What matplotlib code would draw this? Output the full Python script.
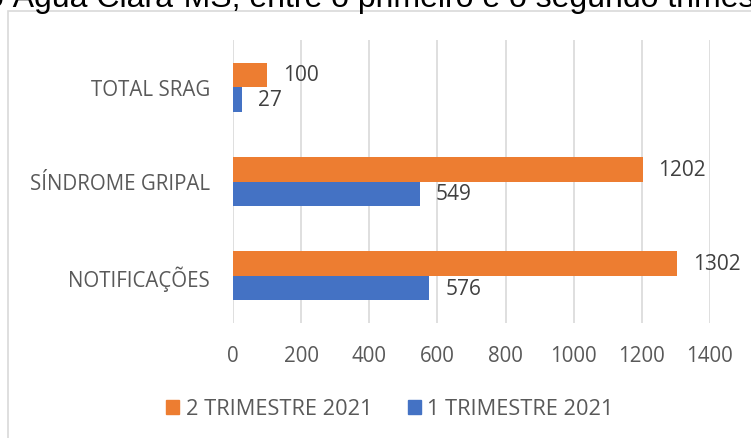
import matplotlib
matplotlib.use("Agg")
import matplotlib.pyplot as plt
from matplotlib.patches import Rectangle, Patch

categories = ["NOTIFICAÇÕES", "SÍNDROME GRIPAL", "TOTAL SRAG"]
series_names = ["2 TRIMESTRE 2021", "1 TRIMESTRE 2021"]
q2_values = [1302, 1202, 100]
q1_values = [576, 549, 27]
x_ticks = [0, 200, 400, 600, 800, 1000, 1200, 1400]
title_text = "o Água Clara-MS, entre o primeiro e o segundo trimestre de 2021"

W, H = 751, 439
fig = plt.figure(figsize=(W / 100, H / 100), dpi=100)
font = "Open Sans"

# outer chart frame
fig.patches.append(Rectangle((8 / W, -0.1), 1.2, 1.1 - 12 / H, transform=fig.transFigure,
                             fill=False, edgecolor="#D9D9D9", linewidth=1.2))

# clipped title at the top
fig.text(-13.5 / W, 1 - 7 / H, title_text, fontsize=23, family="Liberation Sans",
         color="black", ha="left", va="baseline")

ax = fig.add_axes([233 / W, (H - 324) / H, (710 - 233) / W, (324 - 41) / H])
ypos = list(range(len(categories)))
h = 0.26
orange = "#ED7D31"
blue = "#4472C4"
ax.barh([y + h / 2 for y in ypos], q2_values, height=h, color=orange, label=series_names[0])
ax.barh([y - h / 2 for y in ypos], q1_values, height=h, color=blue, label=series_names[1])

for y, v in zip(ypos, q2_values):
    ax.annotate(str(v), (v, y + h / 2), xytext=(11.5, 0), textcoords="offset points",
                va="center", ha="left", fontsize=15, family=font, color="#404040")
for y, v in zip(ypos, q1_values):
    ax.annotate(str(v), (v, y - h / 2), xytext=(11.5, 0), textcoords="offset points",
                va="center", ha="left", fontsize=15, family=font, color="#404040")

ax.set_xlim(0, 1400)
ax.set_ylim(-0.5, 2.5)
ax.set_xticks(x_ticks)
ax.set_xticklabels([str(t) for t in x_ticks], family=font, fontsize=14.8, color="#595959")
ax.set_yticks(ypos)
ax.set_yticklabels(categories, family=font, fontsize=14.8, color="#595959")
ax.tick_params(axis="both", length=0)
ax.tick_params(axis="x", pad=16)
ax.tick_params(axis="y", pad=16.5)
ax.grid(axis="x", color="#D9D9D9", linewidth=1.2)
ax.set_axisbelow(True)
for s in ax.spines.values():
    s.set_visible(False)

handles = [Patch(color=orange), Patch(color=blue)]
fig.legend(handles, series_names, loc="center", bbox_to_anchor=(390 / W, 1 - 410 / H),
           ncol=2, frameon=False, prop={"family": font, "size": 15.7},
           handlelength=0.6, handleheight=0.6, handletextpad=0.28, columnspacing=1.65,
           labelcolor="#595959")

fig.savefig("out.png", dpi=100)
